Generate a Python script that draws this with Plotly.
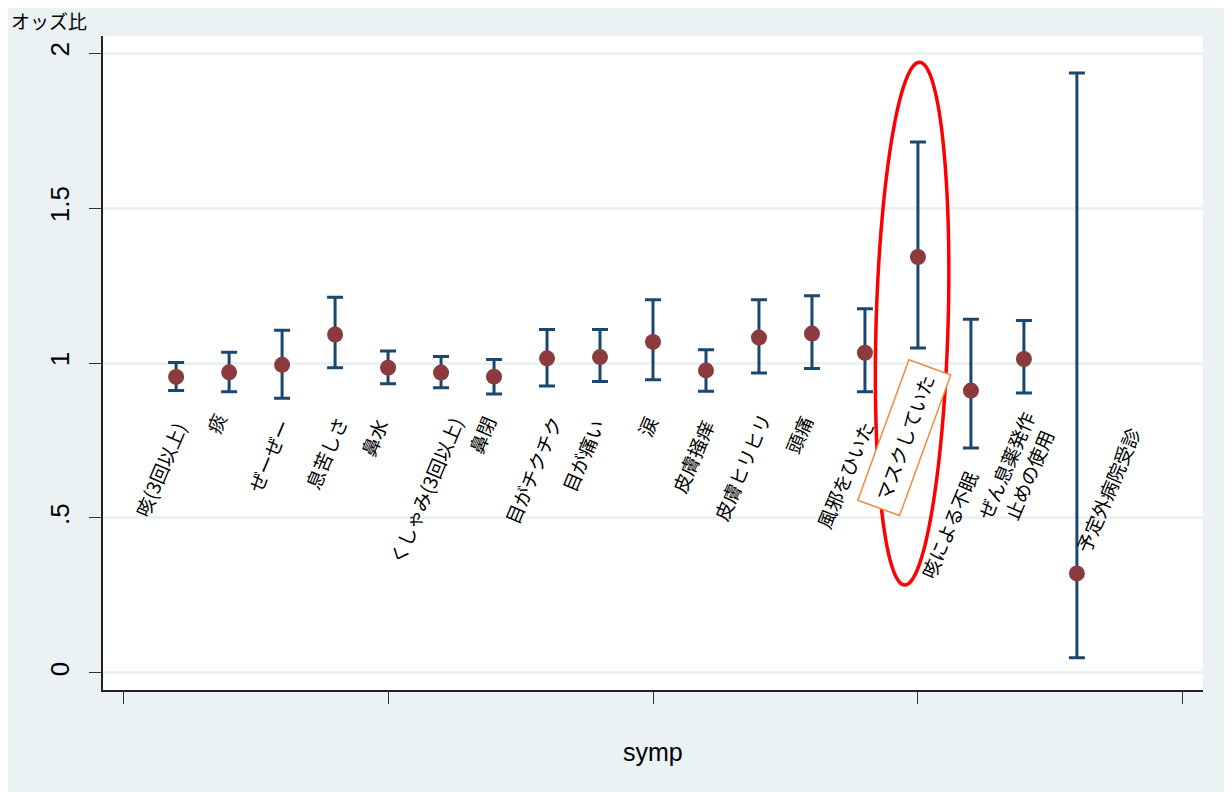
import plotly.graph_objects as go
import numpy as np

# ---- data ----
symp = list(range(1, 19))
labels = ["咳(3回以上)", "痰", "ぜーぜー", "息苦しさ", "鼻水", "くしゃみ(3回以上)", "鼻閉",
          "目がチクチク", "目が痛い", "涙", "皮膚掻痒", "皮膚ヒリヒリ", "頭痛", "風邪をひいた",
          "マスクしていた", "咳による不眠", "ぜん息薬発作<br>止めの使用", "予定外病院受診"]
odds = [0.955, 0.970, 0.994, 1.092, 0.985, 0.969, 0.956, 1.015, 1.019, 1.068, 0.976,
        1.082, 1.095, 1.033, 1.342, 0.911, 1.013, 0.321]
ci_low = [0.911, 0.907, 0.886, 0.985, 0.933, 0.920, 0.900, 0.926, 0.940, 0.946, 0.909,
          0.968, 0.982, 0.907, 1.048, 0.726, 0.903, 0.049]
ci_high = [1.002, 1.035, 1.106, 1.212, 1.039, 1.021, 1.011, 1.108, 1.108, 1.204, 1.043,
           1.204, 1.217, 1.175, 1.713, 1.141, 1.137, 1.936]
y_ticks = [0, 0.5, 1, 1.5, 2]
y_ticktext = ["0", ".5", "1", "1.5", "2"]
x_ticks = [0, 5, 10, 15, 20]

# label placement (annotation positions)
label_x = [0.70, 1.74, 2.74, 3.83, 4.72, 5.70, 6.77, 7.74, 8.66, 9.89, 10.75, 11.68,
           12.75, 13.62, 14.74, 15.57, 16.87, 18.57]
label_y = [0.655, 0.806, 0.703, 0.710, 0.761, 0.590, 0.768, 0.655, 0.703, 0.794, 0.697,
           0.665, 0.768, 0.639, 0.758, 0.477, 0.655, 0.590]
highlight = "マスクしていた"

BG = "#EAF2F3"
NAVY = "#1A476F"
MAROON = "#8B3A3E"

err_plus = [h - o for h, o in zip(ci_high, odds)]
err_minus = [o - l for o, l in zip(odds, ci_low)]

fig = go.Figure()
fig.add_trace(go.Scatter(
    x=symp, y=odds, mode="markers",
    marker=dict(color=MAROON, size=16),
    error_y=dict(type="data", symmetric=False, array=err_plus, arrayminus=err_minus,
                 color=NAVY, thickness=3, width=8),
    showlegend=False, hoverinfo="skip"))

annotations = []
for lx, ly, lab in zip(label_x, label_y, labels):
    a = dict(x=lx, y=ly, xref="x", yref="y", text=lab, showarrow=False,
             textangle=-67, xanchor="center", yanchor="middle",
             font=dict(family="Noto Sans CJK JP", size=19, color="black"))
    if lab == highlight:
        a.update(textangle=-70, bordercolor="#F08A3C", borderwidth=1.5, borderpad=8,
                 bgcolor="white")
    annotations.append(a)

annotations.append(dict(xref="paper", yref="paper", x=0, y=1, xshift=-94, yshift=16,
                        xanchor="left", yanchor="middle", text="オッズ比", showarrow=False,
                        font=dict(family="Noto Sans CJK JP", size=19, color="black")))
annotations.append(dict(xref="paper", yref="paper", x=0.5, y=0, yshift=-62,
                        xanchor="center", yanchor="middle", text="symp", showarrow=False,
                        font=dict(family="Liberation Sans", size=25, color="black")))

# red ellipse highlight (pixel path around anchor point)
t = np.linspace(0, 2 * np.pi, 120)
a_px, b_px, th = 36, 261.5, np.deg2rad(1.64)
ex = a_px * np.cos(t) * np.cos(th) + b_px * np.sin(t) * np.sin(th)
ey = -a_px * np.cos(t) * np.sin(th) + b_px * np.sin(t) * np.cos(th)
path = "M " + " L ".join(f"{px:.2f},{py:.2f}" for px, py in zip(ex, ey)) + " Z"

shapes = [
    dict(type="path", xref="x", yref="y", xsizemode="pixel", ysizemode="pixel",
         xanchor=14.89, yanchor=1.127, path=path, line=dict(color="#FF0000", width=3.5)),
]

fig.update_layout(
    width=1232, height=792,
    margin=dict(l=95, r=37, t=28, b=110),
    paper_bgcolor=BG, plot_bgcolor="white",
    annotations=annotations, shapes=shapes,
    xaxis=dict(range=[-0.38, 20.38], tickvals=x_ticks, showticklabels=False,
               ticks="outside", ticklen=12, tickwidth=1.2, tickcolor="#333",
               showgrid=False, zeroline=False, showline=True, linecolor="#222",
               linewidth=1.5),
    yaxis=dict(range=[-0.055, 2.055], tickvals=y_ticks, ticktext=y_ticktext,
               tickangle=-90, ticks="outside", ticklen=12, tickwidth=1.2, tickcolor="#333",
               tickfont=dict(family="Liberation Sans", size=26, color="black"),
               ticklabelstandoff=10,
               showgrid=True, gridcolor=BG, gridwidth=2.5, zeroline=False,
               showline=True, linecolor="#222", linewidth=1.5),
)

fig.write_html("out.html")
